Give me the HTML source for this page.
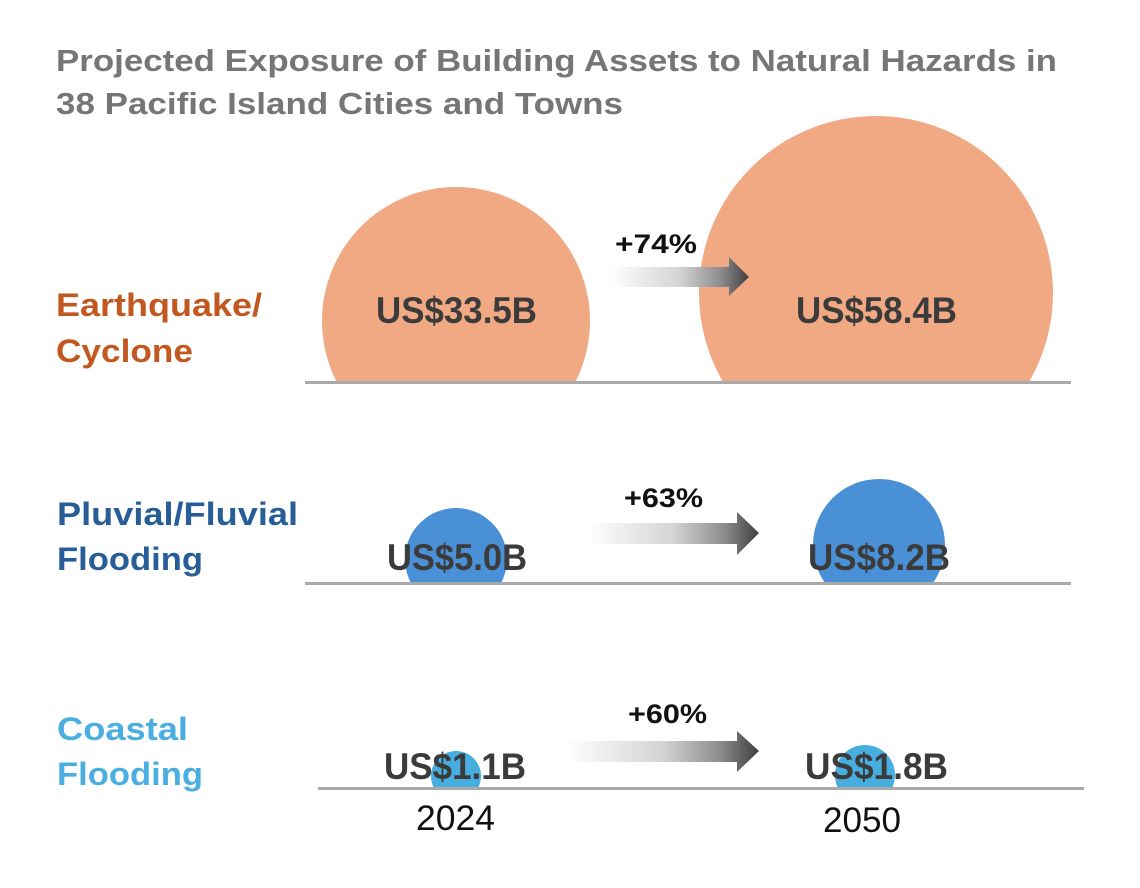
<!DOCTYPE html>
<html>
<head>
<meta charset="utf-8">
<style>
  html, body { margin: 0; padding: 0; background: #ffffff; }
  svg { display: block; }
  text { font-family: "Liberation Sans", Arial, sans-serif; }
</style>
</head>
<body>
<svg width="1140" height="888" viewBox="0 0 1140 888" xmlns="http://www.w3.org/2000/svg">
  <defs>
    <linearGradient id="ag1" x1="610" y1="0" x2="749" y2="0" gradientUnits="userSpaceOnUse">
      <stop offset="0" stop-color="#ffffff"/>
      <stop offset="0.5" stop-color="#d4d4d4"/>
      <stop offset="0.8" stop-color="#8c8c8c"/>
      <stop offset="1" stop-color="#3f3f3f"/>
    </linearGradient>
    <linearGradient id="ag2" x1="588" y1="0" x2="759" y2="0" gradientUnits="userSpaceOnUse">
      <stop offset="0" stop-color="#ffffff"/>
      <stop offset="0.5" stop-color="#d4d4d4"/>
      <stop offset="0.8" stop-color="#8c8c8c"/>
      <stop offset="1" stop-color="#3f3f3f"/>
    </linearGradient>
    <linearGradient id="ag3" x1="566" y1="0" x2="759" y2="0" gradientUnits="userSpaceOnUse">
      <stop offset="0" stop-color="#ffffff"/>
      <stop offset="0.5" stop-color="#d4d4d4"/>
      <stop offset="0.8" stop-color="#8c8c8c"/>
      <stop offset="1" stop-color="#3f3f3f"/>
    </linearGradient>
    <clipPath id="c1"><rect x="0" y="0" width="1140" height="382"/></clipPath>
    <clipPath id="c2"><rect x="0" y="0" width="1140" height="583"/></clipPath>
    <clipPath id="c3"><rect x="0" y="0" width="1140" height="788"/></clipPath>
  </defs>

  <!-- Title -->
  <text x="56" y="71" font-size="31" font-weight="bold" fill="#767676" textLength="1001" lengthAdjust="spacingAndGlyphs">Projected Exposure of Building Assets to Natural Hazards in</text>
  <text x="56" y="114" font-size="31" font-weight="bold" fill="#767676" textLength="567" lengthAdjust="spacingAndGlyphs">38 Pacific Island Cities and Towns</text>

  <!-- Row labels -->
  <text x="56" y="316" font-size="32" font-weight="bold" fill="#c1581f" textLength="206" lengthAdjust="spacingAndGlyphs">Earthquake/</text>
  <text x="56" y="362" font-size="32" font-weight="bold" fill="#c1581f" textLength="137" lengthAdjust="spacingAndGlyphs">Cyclone</text>

  <text x="57" y="525" font-size="32" font-weight="bold" fill="#285e97" textLength="241" lengthAdjust="spacingAndGlyphs">Pluvial/Fluvial</text>
  <text x="57" y="570" font-size="32" font-weight="bold" fill="#285e97" textLength="146" lengthAdjust="spacingAndGlyphs">Flooding</text>

  <text x="57" y="740" font-size="32" font-weight="bold" fill="#4baee0" textLength="131" lengthAdjust="spacingAndGlyphs">Coastal</text>
  <text x="57" y="785" font-size="32" font-weight="bold" fill="#4baee0" textLength="146" lengthAdjust="spacingAndGlyphs">Flooding</text>

  <!-- Row 1: Earthquake/Cyclone -->
  <g clip-path="url(#c1)">
    <circle cx="456" cy="321" r="134" fill="#f1a984"/>
    <circle cx="876" cy="293" r="177" fill="#f1a984"/>
  </g>
  <rect x="305" y="381" width="766" height="3" fill="#a9a9a9"/>
  <path d="M610 267 H729 V257 L749 277 L729 296 V287 H610 Z" fill="url(#ag1)"/>
  <text x="615" y="253" font-size="27" font-weight="bold" fill="#111111" textLength="82" lengthAdjust="spacingAndGlyphs">+74%</text>
  <text x="376" y="323" font-size="37" font-weight="bold" fill="#3b3b3b" textLength="161" lengthAdjust="spacingAndGlyphs">US$33.5B</text>
  <text x="796" y="323" font-size="37" font-weight="bold" fill="#3b3b3b" textLength="161" lengthAdjust="spacingAndGlyphs">US$58.4B</text>

  <!-- Row 2: Pluvial/Fluvial Flooding -->
  <g clip-path="url(#c2)">
    <circle cx="456" cy="559" r="51" fill="#4a90d6"/>
    <circle cx="879" cy="545" r="66" fill="#4a90d6"/>
  </g>
  <rect x="305" y="582" width="766" height="3" fill="#a9a9a9"/>
  <path d="M588 523 H737 V512 L759 533 L737 555 V544 H588 Z" fill="url(#ag2)"/>
  <text x="624" y="507" font-size="27" font-weight="bold" fill="#111111" textLength="79" lengthAdjust="spacingAndGlyphs">+63%</text>
  <text x="387" y="570" font-size="37" font-weight="bold" fill="#3b3b3b" textLength="140" lengthAdjust="spacingAndGlyphs">US$5.0B</text>
  <text x="808" y="570" font-size="37" font-weight="bold" fill="#3b3b3b" textLength="142" lengthAdjust="spacingAndGlyphs">US$8.2B</text>

  <!-- Row 3: Coastal Flooding -->
  <g clip-path="url(#c3)">
    <circle cx="456" cy="776" r="25" fill="#48aee0"/>
    <circle cx="865" cy="775" r="30" fill="#48aee0"/>
  </g>
  <rect x="318" y="787" width="766" height="3" fill="#a9a9a9"/>
  <path d="M566 741 H737 V731 L759 751 L737 772 V762 H566 Z" fill="url(#ag3)"/>
  <text x="628" y="723" font-size="27" font-weight="bold" fill="#111111" textLength="79" lengthAdjust="spacingAndGlyphs">+60%</text>
  <text x="384" y="779" font-size="37" font-weight="bold" fill="#3b3b3b" textLength="142" lengthAdjust="spacingAndGlyphs">US$1.1B</text>
  <text x="805" y="779" font-size="37" font-weight="bold" fill="#3b3b3b" textLength="143" lengthAdjust="spacingAndGlyphs">US$1.8B</text>

  <!-- Years -->
  <text x="416" y="830" font-size="35" fill="#111111" textLength="79" lengthAdjust="spacingAndGlyphs">2024</text>
  <text x="823" y="832" font-size="35" fill="#111111" textLength="78" lengthAdjust="spacingAndGlyphs">2050</text>
</svg>
</body>
</html>
